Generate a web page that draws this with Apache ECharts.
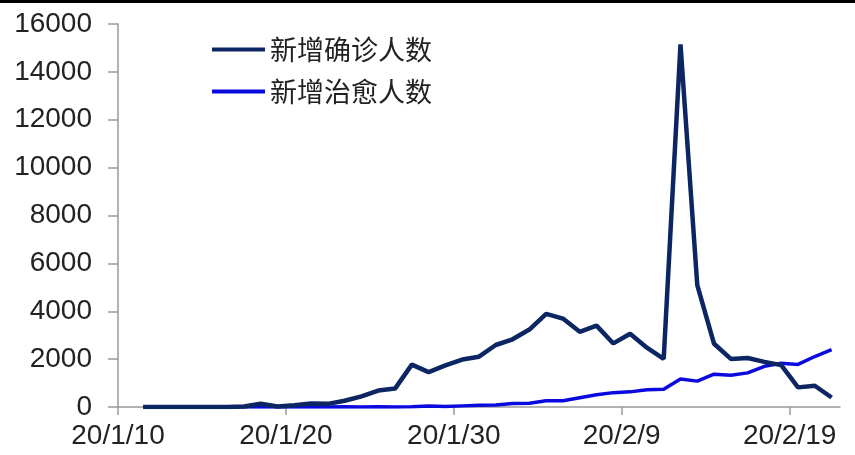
<!DOCTYPE html>
<html>
<head>
<meta charset="utf-8">
<script src="https://cdn.jsdelivr.net/npm/echarts@6/dist/echarts.min.js"></script>
<style>
html,body{margin:0;padding:0;background:#fff;}
#c{width:855px;height:455px;}
</style>
</head>
<body>
<div id="c"></div>
<script>
// Dates (2020) of each daily observation
const dates = [
  '1/11','1/12','1/13','1/14','1/15','1/16','1/17','1/18','1/19','1/20',
  '1/21','1/22','1/23','1/24','1/25','1/26','1/27','1/28','1/29','1/30','1/31',
  '2/1','2/2','2/3','2/4','2/5','2/6','2/7','2/8','2/9','2/10',
  '2/11','2/12','2/13','2/14','2/15','2/16','2/17','2/18','2/19','2/20','2/21'
];
// 新增确诊人数
const newConfirmed = [
  0,0,0,0,0,4,17,136,19,77,
  149,131,259,444,688,769,1771,1459,1737,1982,2102,
  2590,2829,3235,3887,3694,3143,3399,2656,3062,2478,
  2015,15152,5090,2641,2009,2048,1886,1749,820,889,397
];
// 新增治愈人数
const newCured = [
  0,0,0,0,5,3,4,2,0,0,
  3,0,6,4,11,2,9,43,21,47,72,
  85,147,157,262,261,387,510,600,632,716,
  744,1171,1081,1373,1323,1425,1701,1824,1779,2109,2394
];
const seriesNames = ['新增确诊人数', '新增治愈人数'];
const xTickLabels = ['20/1/10', '20/1/20', '20/1/30', '20/2/9', '20/2/19'];

const axisStart = new Date(2020, 0, 10);
const axisDays = 43;
function dayPos(s) {
  const [m, d] = s.split('/').map(Number);
  const t = new Date(2020, m - 1, d);
  return Math.round((t - axisStart) / 86400000) + 0.5; // centre of the day cell
}
const tickVals = xTickLabels.map((_, i) => i * 10);

const chart = echarts.init(document.getElementById('c'), null, {renderer: 'canvas'});
chart.setOption({
  animation: false,
  backgroundColor: '#ffffff',
  graphic: [{
    type: 'line',
    shape: {x1: 0, y1: 1.5, x2: 855, y2: 1.5},
    style: {stroke: '#000', lineWidth: 3}
  }],
  grid: {left: 118, right: 15, top: 24, bottom: 48, containLabel: false},
  legend: {
    orient: 'vertical',
    left: 212,
    top: 34,
    padding: 0,
    itemGap: 11,
    itemWidth: 53,
    itemHeight: 4,
    icon: 'rect',
    textStyle: {fontFamily: 'Noto Sans CJK SC', fontSize: 27, lineHeight: 31, color: '#222'},
    data: seriesNames
  },
  xAxis: {
    type: 'value',
    min: 0,
    max: axisDays,
    interval: 10,
    splitLine: {show: false},
    axisLine: {show: true, lineStyle: {color: '#999', width: 1.5}},
    axisTick: {show: true, length: 8, customValues: tickVals, lineStyle: {color: '#999', width: 1.5}},
    axisLabel: {
      customValues: tickVals,
      margin: 15,
      fontFamily: 'Liberation Sans, Arial',
      fontSize: 28,
      color: '#222',
      formatter: v => xTickLabels[Math.round(v / 10)] || ''
    }
  },
  yAxis: {
    type: 'value',
    min: 0,
    max: 16000,
    interval: 2000,
    splitLine: {show: false},
    axisLine: {show: true, lineStyle: {color: '#999', width: 1.5}},
    axisTick: {show: true, length: 10, lineStyle: {color: '#999', width: 1.5}},
    axisLabel: {
      margin: 26,
      fontFamily: 'Liberation Sans, Arial',
      fontSize: 28,
      color: '#222',
      formatter: v => String(v)
    }
  },
  series: [
    {
      name: seriesNames[0],
      type: 'line',
      data: dates.map((d, i) => [dayPos(d), newConfirmed[i]]),
      showSymbol: false,
      symbol: 'none',
      lineStyle: {color: '#0c2563', width: 4.5},
      itemStyle: {color: '#0c2563'},
      z: 3
    },
    {
      name: seriesNames[1],
      type: 'line',
      data: dates.map((d, i) => [dayPos(d), newCured[i]]),
      showSymbol: false,
      symbol: 'none',
      lineStyle: {color: '#0a0adf', width: 3.5},
      itemStyle: {color: '#0a0adf'},
      z: 2
    }
  ]
});
</script>
</body>
</html>
